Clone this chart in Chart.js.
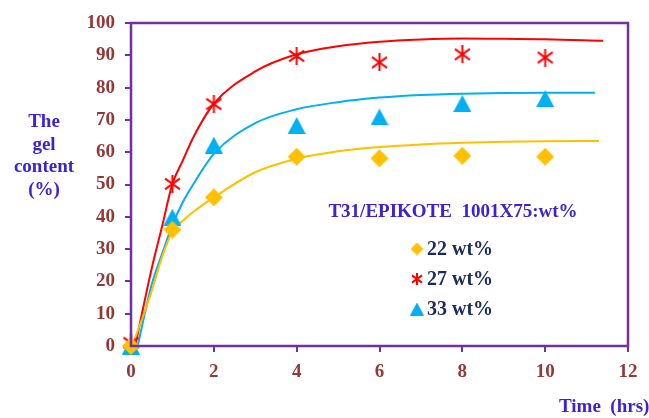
<!DOCTYPE html>
<html>
<head>
<meta charset="utf-8">
<script src="https://cdn.jsdelivr.net/npm/chart.js@4.4.1/dist/chart.umd.min.js"></script>
<style>
  body { margin: 0; background: #fff; }
  #gelChart { display: block; }
</style>
</head>
<body>
<canvas id="gelChart" width="649" height="418"></canvas>
<script>
// measured points
const times = [0, 1, 2, 4, 6, 8, 10];
const wt22 = [0, 36, 46, 58.6, 58.1, 58.9, 58.6];
const wt27 = [1, 50.2, 74.9, 89.8, 87.8, 90.3, 89.3];
const wt33 = [0, 39.9, 62.2, 68.3, 70.9, 75.1, 76.6];

// fitted curves
const fitT22 = [0.03, 0.5, 0.75, 1, 1.25, 1.5, 2, 3, 4, 5, 6, 7, 8, 9, 10, 11.3];
const fit22 = [0, 17, 27.5, 35.5, 38.8, 41.5, 46, 53.8, 58, 60.3, 61.6, 62.4, 62.9, 63.2, 63.4, 63.5];
const fitT27 = [0.1, 0.5, 0.75, 1, 1.25, 1.5, 2, 3, 4, 5, 6, 7, 8, 9, 10, 11.4];
const fit27 = [0, 24, 37, 50.2, 57.4, 64.5, 75, 85, 90.3, 92.8, 94.2, 94.9, 95.2, 95.1, 95, 94.5];
const fitT33 = [0.16, 0.5, 0.75, 1, 1.25, 1.5, 2, 3, 4, 5, 6, 7, 8, 9, 10, 11.2];
const fit33 = [0, 19, 28.5, 37.5, 44.5, 50, 59.5, 69, 73.3, 75.5, 76.9, 77.7, 78.1, 78.3, 78.4, 78.4];

const seriesNames = ['22 wt%', '27 wt%', '33 wt%'];
const xTicks = [0, 2, 4, 6, 8, 10, 12];

const ORANGE = '#FFC000', RED = '#FF0000', CYAN = '#00B0F0', PURPLE = '#7030A0';
const TICK_COL = '#953735', TITLE_COL = '#3B22D6', LEG_COL = '#1C2A5E';
const FONT = '"Liberation Serif", "Times New Roman", serif';

function marker(kind, w, h, color) {
  const c = document.createElement('canvas');
  c.width = w; c.height = h;
  const g = c.getContext('2d');
  g.fillStyle = color; g.strokeStyle = color;
  if (kind === 'diamond') {
    g.beginPath();
    g.moveTo(w / 2, 0); g.lineTo(w, h / 2); g.lineTo(w / 2, h); g.lineTo(0, h / 2);
    g.closePath(); g.fill();
  } else if (kind === 'triangle') {
    g.beginPath();
    g.moveTo(w / 2, 0); g.lineTo(w, h); g.lineTo(0, h);
    g.closePath(); g.fill();
  } else {
    g.lineWidth = 2;
    g.beginPath();
    g.moveTo(w / 2, 0); g.lineTo(w / 2, h);
    g.moveTo(1, h * 0.2); g.lineTo(w - 1, h * 0.8);
    g.moveTo(w - 1, h * 0.2); g.lineTo(1, h * 0.8);
    g.stroke();
  }
  return c;
}

const mk22 = marker('diamond', 18, 18, ORANGE);
const mk27 = marker('star', 17, 18, RED);
const mk33 = marker('triangle', 18, 17, CYAN);
const lg22 = marker('diamond', 13, 13, ORANGE);
const lg27 = marker('star', 12, 12, RED);
const lg33 = marker('triangle', 14, 13, CYAN);

const pts = (xs, ys) => xs.map((x, i) => ({ x: x, y: ys[i] }));

function curve(xs, ys, color) {
  return {
    data: pts(xs, ys), showLine: true, borderColor: color, borderWidth: 2,
    pointRadius: 0, cubicInterpolationMode: 'monotone', fill: false, order: 2
  };
}
function markers(ys, img) {
  return { data: pts(times, ys), showLine: false, pointStyle: img, pointRadius: 9, clip: false, order: 1 };
}

const overlay = {
  id: 'overlay',
  afterDraw(chart) {
    const ctx = chart.ctx, a = chart.chartArea;
    ctx.save();
    ctx.strokeStyle = PURPLE;
    ctx.lineWidth = 2.5;
    ctx.strokeRect(a.left, a.top, a.right - a.left, a.bottom - a.top);
    ctx.restore();
  },
  afterDatasetsDraw(chart) {
    const ctx = chart.ctx;
    ctx.save();
    ctx.textBaseline = 'middle';
    ctx.fillStyle = TITLE_COL;
    ctx.font = 'bold 19px ' + FONT;
    ctx.textAlign = 'center';
    ['The', 'gel', 'content', '(%)'].forEach((s, i) => ctx.fillText(s, 44, 122 + i * 22.7));
    ctx.textAlign = 'left';
    ctx.fillText('Time  (hrs)', 559, 407);

    ctx.textAlign = 'center';
    ctx.font = 'bold 19px ' + FONT;
    ctx.fillText('T31/EPIKOTE  1001X75:wt%', 453, 212);

    const imgs = [lg22, lg27, lg33];
    ctx.textAlign = 'left';
    ctx.fillStyle = LEG_COL;
    ctx.font = 'bold 20px ' + FONT;
    seriesNames.forEach((s, i) => {
      const y = 249 + i * 30;
      const im = imgs[i];
      ctx.drawImage(im, 417 - im.width / 2, y - im.height / 2);
      ctx.fillText(s, 427, y + 1);
    });
    ctx.restore();
  }
};

new Chart(document.getElementById('gelChart'), {
  type: 'scatter',
  data: {
    datasets: [
      curve(fitT22, fit22, ORANGE),
      curve(fitT27, fit27, RED),
      curve(fitT33, fit33, CYAN),
      markers(wt22, mk22),
      markers(wt27, mk27),
      markers(wt33, mk33)
    ]
  },
  options: {
    responsive: false,
    animation: false,
    layout: { padding: { left: 0, top: 23, right: 21, bottom: 0 } },
    plugins: { legend: { display: false }, tooltip: { enabled: false } },
    scales: {
      x: {
        type: 'linear', min: 0, max: 12,
        afterBuildTicks: s => { s.ticks = xTicks.map(v => ({ value: v })); },
        afterFit: s => { s.height = 72; },
        border: { display: false },
        grid: { drawOnChartArea: false, drawTicks: true, tickLength: 6, color: PURPLE, lineWidth: 2 },
        ticks: { color: TICK_COL, padding: 9, font: { family: FONT, size: 19, weight: 'bold' } }
      },
      y: {
        min: 0, max: 100,
        ticks: { stepSize: 10, color: TICK_COL, padding: 10, font: { family: FONT, size: 19, weight: 'bold' } },
        afterFit: s => { s.width = 131; },
        border: { display: false },
        grid: { drawOnChartArea: false, drawTicks: true, tickLength: 6, color: PURPLE, lineWidth: 2 }
      }
    }
  },
  plugins: [overlay]
});
</script>
</body>
</html>
